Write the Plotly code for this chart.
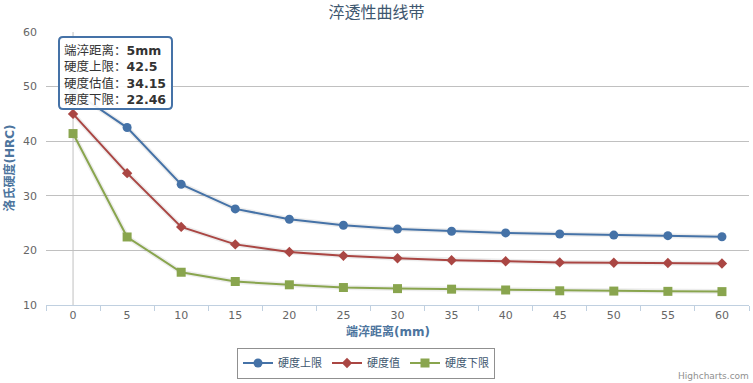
import plotly.graph_objects as go

categories = ["0", "5", "10", "15", "20", "25", "30", "35", "40", "45", "50", "55", "60"]
upper = [49.2, 42.5, 32.1, 27.6, 25.7, 24.6, 23.9, 23.5, 23.2, 23.0, 22.8, 22.7, 22.5]
estimate = [45.0, 34.15, 24.3, 21.1, 19.7, 19.0, 18.55, 18.2, 18.0, 17.8, 17.75, 17.7, 17.6]
lower = [41.4, 22.46, 16.0, 14.3, 13.7, 13.2, 13.0, 12.9, 12.75, 12.6, 12.55, 12.5, 12.45]
y_ticks = [10, 20, 30, 40, 50, 60]

W, H = 753, 383
L, R, T, B = 46, 749, 32, 305

def px(x):
    return (x - L) / (R - L)

def py(y):
    return (B - y) / (B - T)

FONT = "DejaVu Sans, Noto Sans CJK SC, sans-serif"

fig = go.Figure()

series = [
    ("硬度上限", upper, "#4572A7", "circle", 9),
    ("硬度值", estimate, "#AA4643", "diamond", 8),
    ("硬度下限", lower, "#89A54E", "square", 9),
]

# soft shadows under lines
for name, vals, color, sym, size in series:
    fig.add_trace(go.Scatter(x=categories, y=vals, mode="lines",
                             line=dict(color="rgba(0,0,0,0.07)", width=5),
                             showlegend=False, hoverinfo="skip"))

for name, vals, color, sym, size in series:
    fig.add_trace(go.Scatter(x=categories, y=vals, name=name, mode="lines+markers",
                             line=dict(color=color, width=2),
                             marker=dict(symbol=sym, size=size, color=color)))

# vertical line at first category
fig.add_shape(type="line", xref="x", yref="paper", x0=0, x1=0, y0=0, y1=1,
              line=dict(color="#C0C0C0", width=1), layer="below")

# tooltip box (rounded)
x0, x1 = px(59), px(172)
y0, y1 = py(109), py(37)
rx, ry = 4 / (R - L), 4 / (B - T)
path = (f"M {x0+rx},{y1} L {x1-rx},{y1} Q {x1},{y1} {x1},{y1-ry} "
        f"L {x1},{y0+ry} Q {x1},{y0} {x1-rx},{y0} L {x0+rx},{y0} "
        f"Q {x0},{y0} {x0},{y0+ry} L {x0},{y1-ry} Q {x0},{y1} {x0+rx},{y1} Z")
fig.add_shape(type="path", xref="paper", yref="paper", path=path,
              fillcolor="rgba(255,255,255,0.92)", line=dict(color="#4572A7", width=2),
              layer="above")
tip_lines = [
    ("端淬距离", "5mm"),
    ("硬度上限", "42.5"),
    ("硬度估值", "34.15"),
    ("硬度下限", "22.46"),
]
tip_text = "<br>".join(f"{k}：<b>{v}</b>" for k, v in tip_lines)
fig.add_annotation(xref="paper", yref="paper", x=px(62), y=py(41), xanchor="left", yanchor="top",
                   text=tip_text, showarrow=False, align="left",
                   font=dict(family=FONT, size=12.5, color="#333333"))

# axis titles
fig.add_annotation(xref="paper", yref="paper", x=px(9), y=0.5, xanchor="center", yanchor="middle",
                   text="<b>洛氏硬度(HRC)</b>", textangle=-90, showarrow=False,
                   font=dict(family=FONT, size=12, color="#4D759E"))
fig.add_annotation(xref="paper", yref="paper", x=px(388), y=py(331), xanchor="center", yanchor="middle",
                   text="<b>端淬距离(mm)</b>", showarrow=False,
                   font=dict(family=FONT, size=12, color="#4D759E"))

# credits
fig.add_annotation(xref="paper", yref="paper", x=px(751), y=py(376), xanchor="right", yanchor="middle",
                   text="Highcharts.com", showarrow=False,
                   font=dict(family=FONT, size=9, color="#909090"))

fig.update_layout(
    width=W, height=H,
    margin=dict(l=L, r=W - R, t=T, b=H - B),
    paper_bgcolor="white", plot_bgcolor="white",
    font=dict(family=FONT, size=11, color="#666666"),
    title=dict(text="淬透性曲线带", x=0.5, xref="container",
               xanchor="center", y=1 - 12 / H, yanchor="middle",
               font=dict(family=FONT, size=16, color="#3E576F")),
    showlegend=True,
    legend=dict(orientation="h", x=px(366), y=py(363), xanchor="center", yanchor="middle",
                bordercolor="#909090", borderwidth=1, bgcolor="white",
                font=dict(family=FONT, size=11, color="#3E576F"),
                itemwidth=30, tracegroupgap=0),
    xaxis=dict(type="category", tickson="boundaries", ticks="outside", ticklen=5,
               tickcolor="#C0D0E0", showline=True, linecolor="#C0D0E0", linewidth=1,
               showgrid=False, zeroline=False, range=[-0.5, len(categories) - 0.5],
               tickfont=dict(family=FONT, size=11, color="#666666")),
    yaxis=dict(range=[10, 60], tickvals=y_ticks, showgrid=True, gridcolor="#C0C0C0",
               zeroline=False, showline=False, ticks="", ticklabelstandoff=8,
               tickfont=dict(family=FONT, size=11, color="#666666")),
    hovermode=False,
)

fig.write_html("out.html", config={"displayModeBar": False},
               post_script="document.body.style.margin='0';")
